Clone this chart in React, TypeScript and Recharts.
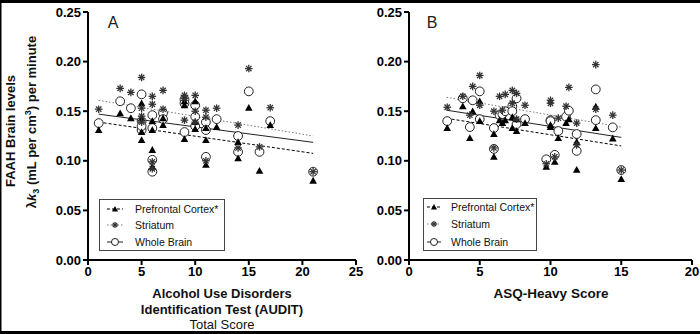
import React from 'react';
import { ScatterChart, Scatter, XAxis, YAxis, Legend } from 'recharts';

const FONT = 'Arial, "Liberation Sans", Helvetica, sans-serif';

// ---- Panel A: AUDIT total score ----
const auditScores = [1, 3, 4, 5, 5, 5, 5, 6, 6, 6, 6, 7, 7, 9, 9, 9, 10, 10, 10, 11, 11, 11, 12, 14, 14, 15, 16, 17, 21];
const auditPfc = [0.131, 0.148, 0.143, 0.158, 0.143, 0.121, 0.129, 0.140, 0.131, 0.111, 0.094, 0.143, 0.136, 0.160, 0.156, 0.122, 0.160, 0.139, 0.132, 0.133, 0.121, 0.096, 0.134, 0.119, 0.1025, 0.1535, 0.090, 0.136, 0.080];
const auditStriatum = [0.152, 0.173, 0.169, 0.184, 0.153, 0.139, 0.145, 0.165, 0.157, 0.099, 0.092, 0.171, 0.152, 0.166, 0.163, 0.141, 0.166, 0.150, 0.139, 0.151, 0.144, 0.100, 0.153, 0.136, 0.113, 0.193, 0.114, 0.1535, 0.089];
const auditWhole = [0.138, 0.160, 0.153, 0.167, 0.140, 0.131, 0.135, 0.146, 0.133, 0.101, 0.089, 0.148, 0.142, 0.162, 0.158, 0.129, 0.156, 0.1445, 0.135, 0.139, 0.131, 0.104, 0.142, 0.125, 0.109, 0.170, 0.109, 0.140, 0.089];
const auditFitX = [1, 21];
const auditFitPfc = [0.139, 0.1075];
const auditFitStriatum = [0.161, 0.125];
const auditFitWhole = [0.147, 0.1186];
const auditTicks = [0, 5, 10, 15, 20, 25];

// ---- Panel B: ASQ-Heavy score ----
const asqScores = [2.7, 3.8, 4.3, 4.5, 5.0, 5.0, 6.0, 6.0, 6.4, 6.6, 6.8, 7.3, 7.3, 7.6, 7.6, 8.2, 9.7, 10.0, 10.0, 10.3, 10.55, 11.1, 11.3, 11.85, 11.85, 13.2, 13.2, 14.4, 15.0];
const asqPfc = [0.133, 0.155, 0.123, 0.150, 0.160, 0.140, 0.127, 0.104, 0.141, 0.138, 0.141, 0.144, 0.133, 0.142, 0.130, 0.138, 0.094, 0.134, 0.136, 0.099, 0.123, 0.138, 0.142, 0.119, 0.091, 0.1546, 0.133, 0.1226, 0.0816];
const asqStriatum = [0.154, 0.165, 0.146, 0.175, 0.186, 0.156, 0.150, 0.113, 0.165, 0.151, 0.167, 0.171, 0.158, 0.168, 0.142, 0.156, 0.097, 0.158, 0.161, 0.104, 0.143, 0.155, 0.174, 0.138, 0.116, 0.197, 0.152, 0.146, 0.0907];
const asqWhole = [0.140, 0.163, 0.134, 0.161, 0.170, 0.142, 0.133, 0.112, 0.146, 0.147, 0.150, 0.155, 0.150, 0.163, 0.137, 0.142, 0.1015, 0.141, 0.140, 0.106, 0.130, 0.1445, 0.1505, 0.127, 0.110, 0.172, 0.141, 0.1337, 0.0907];
const asqFitX = [2.66, 15];
const asqFitPfc = [0.1428, 0.115];
const asqFitStriatum = [0.164, 0.134];
const asqFitWhole = [0.151, 0.1236];
const asqTicks = [0, 5, 10, 15, 20];

const yTicks = [0, 0.05, 0.1, 0.15, 0.2, 0.25];
const seriesNames = ['Prefrontal Cortex*', 'Striatum', 'Whole Brain'];

const pts = (xs: number[], ys: number[]) => xs.map((x, i) => ({ x, y: ys[i] }));

const Tri = (p: any) => {
  const s = p.s || 1;
  return <path d={`M${p.cx},${p.cy - 3.8 * s} L${p.cx + 3.8 * s},${p.cy + 3 * s} L${p.cx - 3.8 * s},${p.cy + 3 * s} Z`} fill="#000" />;
};
const Star = (p: any) => {
  const r = 3.8 * (p.s || 1);
  const d = r * 0.707;
  return (
    <g stroke="#333" strokeWidth={1.3}>
      <line x1={p.cx - r} y1={p.cy} x2={p.cx + r} y2={p.cy} />
      <line x1={p.cx} y1={p.cy - r} x2={p.cx} y2={p.cy + r} />
      <line x1={p.cx - d} y1={p.cy - d} x2={p.cx + d} y2={p.cy + d} />
      <line x1={p.cx - d} y1={p.cy + d} x2={p.cx + d} y2={p.cy - d} />
    </g>
  );
};
const Circ = (p: any) => <circle cx={p.cx} cy={p.cy} r={4.4 * (p.s || 1)} fill="#fff" stroke="#222" strokeWidth={1} />;
const Nothing = () => <g />;

const axisProps = {
  axisLine: { stroke: '#000', strokeWidth: 2 },
  tickLine: { stroke: '#000', strokeWidth: 2 },
  tickSize: 5,
  tick: { fontSize: 13, fontWeight: 'bold', fill: '#000', fontFamily: FONT },
};

const LegendBox = ({ w, h, rows, lx1, lx2, tx }: any) => {
  const styles = [
    { stroke: '#000', dash: '3 2', M: Tri },
    { stroke: '#777', dash: '1.5 2', M: Star },
    { stroke: '#222', dash: undefined, M: Circ },
  ];
  return (
    <svg width={w} height={h} style={{ display: 'block' }}>
      <rect x={0.5} y={0.5} width={w - 1} height={h - 1} fill="#fff" stroke="#444" strokeWidth={1} />
      {seriesNames.map((n, i) => {
        const s = styles[i];
        const M = s.M;
        return (
          <g key={n}>
            <line x1={lx1} x2={lx2} y1={rows[i]} y2={rows[i]} stroke={s.stroke} strokeDasharray={s.dash} strokeWidth={1} />
            <M cx={(lx1 + lx2) / 2} cy={rows[i]} s={0.8} />
            <text x={tx} y={rows[i]} dominantBaseline="central" fontSize={10.5} fontFamily={FONT} fill="#111">{n}</text>
          </g>
        );
      })}
    </svg>
  );
};

const Panel = ({ width, margin, xs, pfc, str, wb, fitX, fitP, fitS, fitW, xMax, xTicks, legend }: any) => (
  <ScatterChart width={width} height={334} margin={margin}>
    <XAxis type="number" dataKey="x" domain={[0, xMax]} ticks={xTicks} height={30} {...axisProps} />
    <YAxis type="number" dataKey="y" domain={[0, 0.25]} ticks={yTicks} width={48} tickFormatter={(v: number) => v.toFixed(2)} {...axisProps} />
    <Legend
      layout="vertical"
      align="center"
      verticalAlign="middle"
      wrapperStyle={{ position: 'absolute', left: legend.left, top: legend.top, width: legend.w, height: legend.h }}
      content={() => <LegendBox {...legend} />}
    />
    <Scatter data={pts(fitX, fitP)} shape={Nothing} line={{ stroke: '#000', strokeDasharray: '3 2', strokeWidth: 1 }} isAnimationActive={false} legendType="none" />
    <Scatter data={pts(fitX, fitS)} shape={Nothing} line={{ stroke: '#777', strokeDasharray: '1.5 2', strokeWidth: 1 }} isAnimationActive={false} legendType="none" />
    <Scatter data={pts(fitX, fitW)} shape={Nothing} line={{ stroke: '#222', strokeWidth: 1 }} isAnimationActive={false} legendType="none" />
    <Scatter data={pts(xs, wb)} shape={Circ} isAnimationActive={false} />
    <Scatter data={pts(xs, pfc)} shape={Tri} isAnimationActive={false} />
    <Scatter data={pts(xs, str)} shape={Star} isAnimationActive={false} />
  </ScatterChart>
);

export default function App() {
  return (
    <div style={{ position: 'absolute', left: 0, top: 0, width: 700, height: 334, background: '#fff', overflow: 'hidden', fontFamily: FONT }}>
      <div style={{ position: 'absolute', left: 0, top: 0 }}>
        <Panel
          width={370}
          margin={{ top: 12, right: 14, bottom: 44, left: 40 }}
          xs={auditScores} pfc={auditPfc} str={auditStriatum} wb={auditWhole}
          fitX={auditFitX} fitP={auditFitPfc} fitS={auditFitStriatum} fitW={auditFitWhole}
          xMax={25} xTicks={auditTicks}
          legend={{ left: 99, top: 199, w: 126, h: 52, rows: [10, 26, 43], lx1: 8, lx2: 24, tx: 36 }}
        />
      </div>
      <div style={{ position: 'absolute', left: 360, top: 0 }}>
        <Panel
          width={340}
          margin={{ top: 12, right: 8, bottom: 44, left: 1 }}
          xs={asqScores} pfc={asqPfc} str={asqStriatum} wb={asqWhole}
          fitX={asqFitX} fitP={asqFitPfc} fitS={asqFitStriatum} fitW={asqFitWhole}
          xMax={20} xTicks={asqTicks}
          legend={{ left: 63, top: 198, w: 114, h: 53, rows: [9, 26, 44], lx1: 4, lx2: 18, tx: 28 }}
        />
      </div>
      <svg width={700} height={334} style={{ position: 'absolute', left: 0, top: 0, pointerEvents: 'none' }} fontFamily={FONT}>
        <text x={113} y={22} fontSize={16} textAnchor="middle" dominantBaseline="central" fill="#222">A</text>
        <text x={432} y={22} fontSize={16} textAnchor="middle" dominantBaseline="central" fill="#222">B</text>
        <text transform="translate(15,131) rotate(-90)" textAnchor="middle" fontSize={13} fontWeight="bold" fill="#111">FAAH Brain levels</text>
        <text transform="translate(36,122) rotate(-90)" textAnchor="middle" fontSize={13} fontWeight="bold" fill="#111">
          λ<tspan fontStyle="italic">k</tspan><tspan fontSize={9} dy={3}>3</tspan><tspan dy={-3}> (mL per cm</tspan><tspan fontSize={9} dy={-5}>3</tspan><tspan dy={5}>) per minute</tspan>
        </text>
        <text x={222} y={298} textAnchor="middle" fontSize={13} fontWeight="bold" fill="#111">Alcohol Use Disorders</text>
        <text x={222} y={314} textAnchor="middle" fontSize={13} fontWeight="bold" fill="#111">Identification Test (AUDIT)</text>
        <text x={222} y={328.5} textAnchor="middle" fontSize={13} fill="#111">Total Score</text>
        <rect x={0} y={0} width={700} height={3} fill="#000" />
        <rect x={0} y={331} width={700} height={3} fill="#000" />
        <rect x={0} y={0} width={1.5} height={334} fill="#000" />
        <text x={551} y={298} textAnchor="middle" fontSize={13.5} fontWeight="bold" fill="#111">ASQ-Heavy Score</text>
      </svg>
    </div>
  );
}
